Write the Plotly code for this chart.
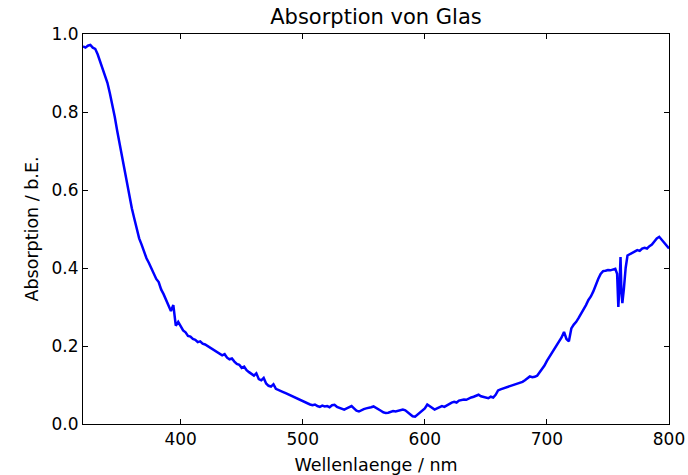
import plotly.graph_objects as go

# Absorption spectrum of glass
wavelength_nm = [
    320, 322, 324, 326, 328, 330, 332, 334, 336, 338,
    340, 342, 344, 346, 348, 350, 352, 354, 356, 358,
    360, 362, 364, 366, 368, 370, 372, 374, 376, 378,
    380, 382, 384, 386, 388, 390, 392, 394, 396, 398,
    400, 402, 404, 406, 408, 410, 412, 414, 416, 418,
    420, 422, 424, 426, 428, 430, 432, 434, 436, 438,
    440, 442, 444, 446, 448, 450, 452, 454, 456, 458,
    460, 462, 464, 466, 468, 470, 472, 474, 476, 478,
    480, 482, 484, 486, 488, 490, 492, 494, 496, 498,
    500, 502, 504, 506, 508, 510, 512, 514, 516, 518,
    520, 522, 524, 526, 528, 530, 532, 534, 536, 538,
    540, 542, 544, 546, 548, 550, 552, 554, 556, 558,
    560, 562, 564, 566, 568, 570, 572, 574, 576, 578,
    580, 582, 584, 586, 588, 590, 592, 594, 596, 598,
    600, 602, 604, 606, 608, 610, 612, 614, 616, 618,
    620, 622, 624, 626, 628, 630, 632, 634, 636, 638,
    640, 642, 644, 646, 648, 650, 652, 654, 656, 658,
    660, 662, 664, 666, 668, 670, 672, 674, 676, 678,
    680, 682, 684, 686, 688, 690, 692, 694, 696, 698,
    700, 702, 704, 706, 708, 710, 712, 714, 716, 718,
    720, 722, 724, 726, 728, 730, 732, 734, 736, 738,
    740, 742, 744, 746, 748, 750, 752, 754, 756, 757.5,
    758.5, 759.5, 760.3, 761, 761.8, 763, 764.5, 766, 768, 770,
    772, 774, 776, 778, 780, 782, 784, 786, 788, 790,
    792, 794, 796, 798, 800,
]

absorption = [
    0.968, 0.965, 0.970, 0.972, 0.965, 0.962, 0.948, 0.930, 0.910, 0.893,
    0.875, 0.848, 0.820, 0.788, 0.752, 0.718, 0.688, 0.656, 0.618, 0.585,
    0.553, 0.527, 0.500, 0.476, 0.460, 0.442, 0.425, 0.413, 0.400, 0.388,
    0.372, 0.364, 0.345, 0.333, 0.318, 0.305, 0.290, 0.305, 0.252, 0.262,
    0.250, 0.240, 0.235, 0.226, 0.224, 0.218, 0.216, 0.210, 0.212, 0.206,
    0.204, 0.200, 0.197, 0.192, 0.189, 0.184, 0.180, 0.176, 0.179, 0.170,
    0.166, 0.168, 0.160, 0.154, 0.152, 0.144, 0.147, 0.138, 0.133, 0.128,
    0.124, 0.130, 0.115, 0.112, 0.118, 0.104, 0.098, 0.096, 0.102, 0.090,
    0.088, 0.085, 0.082, 0.079, 0.076, 0.072, 0.070, 0.066, 0.064, 0.062,
    0.058, 0.055, 0.052, 0.050, 0.048, 0.050, 0.046, 0.044, 0.047, 0.045,
    0.046, 0.043, 0.048, 0.049, 0.044, 0.041, 0.040, 0.037, 0.040, 0.043,
    0.046, 0.040, 0.034, 0.032, 0.036, 0.038, 0.040, 0.041, 0.043, 0.045,
    0.042, 0.038, 0.034, 0.030, 0.028, 0.029, 0.031, 0.033, 0.032, 0.034,
    0.036, 0.037, 0.035, 0.030, 0.024, 0.020, 0.019, 0.024, 0.030, 0.036,
    0.040, 0.050, 0.046, 0.040, 0.037, 0.040, 0.043, 0.046, 0.044, 0.048,
    0.052, 0.055, 0.057, 0.055, 0.060, 0.061, 0.063, 0.062, 0.066, 0.068,
    0.070, 0.073, 0.075, 0.071, 0.069, 0.067, 0.066, 0.070, 0.068, 0.075,
    0.086, 0.089, 0.091, 0.094, 0.096, 0.097, 0.099, 0.101, 0.103, 0.106,
    0.108, 0.112, 0.118, 0.122, 0.120, 0.121, 0.124, 0.132, 0.143, 0.150,
    0.162, 0.172, 0.185, 0.193, 0.205, 0.214, 0.222, 0.236, 0.218, 0.212,
    0.245, 0.255, 0.262, 0.272, 0.282, 0.292, 0.305, 0.318, 0.327, 0.340,
    0.358, 0.372, 0.385, 0.392, 0.393, 0.395, 0.394, 0.397, 0.398, 0.385,
    0.300, 0.360, 0.428, 0.340, 0.310, 0.345, 0.400, 0.432, 0.436, 0.440,
    0.442, 0.446, 0.444, 0.450, 0.452, 0.450, 0.456, 0.460, 0.468, 0.476,
    0.480, 0.472, 0.466, 0.458, 0.450,
]

x_ticks = [400, 500, 600, 700, 800]
y_ticks = [0.0, 0.2, 0.4, 0.6, 0.8, 1.0]

font_family = "DejaVu Sans, sans-serif"

fig = go.Figure(
    go.Scatter(
        x=wavelength_nm,
        y=absorption,
        mode="lines",
        line=dict(color="#0000ff", width=2.5),
        hoverinfo="skip",
    )
)

axis_common = dict(
    showline=True,
    linecolor="black",
    linewidth=1,
    mirror="ticks",
    ticks="inside",
    ticklen=5,
    tickwidth=1,
    tickcolor="black",
    showgrid=False,
    zeroline=False,
    automargin=False,
    tickfont=dict(family=font_family, size=17, color="black"),
)

fig.update_layout(
    width=688,
    height=475,
    margin=dict(l=83, r=19, t=34, b=51),
    paper_bgcolor="white",
    plot_bgcolor="white",
    showlegend=False,
    title=dict(
        text="Absorption von Glas",
        x=0.5,
        xanchor="center",
        xref="paper",
        y=1 - 17 / 475,
        yanchor="middle",
        font=dict(family=font_family, size=21, color="black"),
    ),
    xaxis=dict(
        range=[320, 800],
        tickvals=x_ticks,
        ticktext=[str(v) for v in x_ticks],
        title=dict(text="Wellenlaenge / nm",
                   font=dict(family=font_family, size=17.5, color="black")),
        **axis_common,
    ),
    yaxis=dict(
        range=[0, 1.0],
        tickvals=y_ticks,
        ticktext=[f"{v:.1f}" for v in y_ticks],
        title=dict(text="Absorption / b.E.", standoff=8,
                   font=dict(family=font_family, size=17.5, color="black")),
        **axis_common,
    ),
)

fig.write_html("out.html")
